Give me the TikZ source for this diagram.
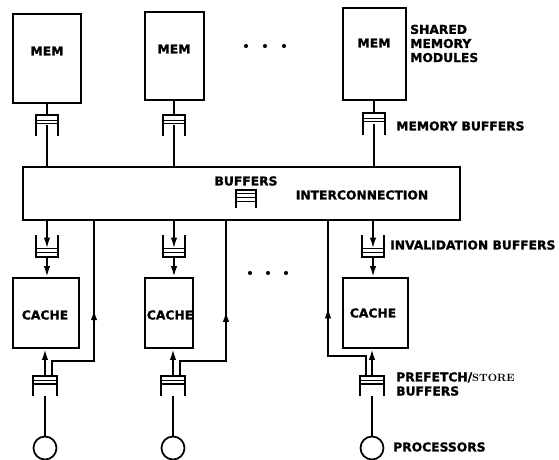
\documentclass[tikz,border=0pt]{standalone}
\usepackage{fontspec}
\setsansfont{DejaVu Sans}[BoldFeatures={FakeBold=1.2}]
\usetikzlibrary{arrows.meta,calc,decorations.markings}

\newdimen\pxu \pxu=0.03cm

\begin{document}
\begin{tikzpicture}[
  x=0.03cm, y=-0.03cm,
  unitbox/.style={draw, line width=2.3pt, inner sep=0pt},
  lbl/.style={font=\sffamily\bfseries\fontsize{10.5}{12}\selectfont, inner sep=0pt},
  side/.style={lbl, anchor=west, align=left},
  buf/.style={inner sep=0pt, minimum width=22\pxu, minimum height=21\pxu},
  bufline/.style={line width=1.5pt},
  stripe/.style={line width=1pt},
  conn/.style={line width=1.5pt},
  tip/.style={},
  arr/.style={conn, -{Latex[length=9pt,width=5.5pt]}},
  fbline/.style={conn, postaction={decorate}, decoration={markings,
      mark=at position 0.55 with {\arrow{Latex[length=9pt,width=5.5pt]}}}},
  proc/.style={circle, draw, line width=1.5pt, minimum size=23\pxu, inner sep=0pt},
  dot/.style={circle, fill, inner sep=0pt, minimum size=3.5pt},
]
  \useasboundingbox (0,0) rectangle (559,460);

  % Shared memory modules
  \node[unitbox, minimum width=68\pxu, minimum height=89\pxu] (mem1) at (47,58.5) {};
  \node[unitbox, minimum width=59\pxu, minimum height=88\pxu] (mem2) at (174.5,56) {};
  \node[unitbox, minimum width=63\pxu, minimum height=92\pxu] (mem3) at (374.5,54) {};
  \node[lbl] (memt1) at (47,51) {MEM};
  \node[lbl] (memt2) at (174,49) {MEM};
  \node[lbl] (memt3) at (374,43) {MEM};
  \node[side] (shared) at (410,43.5) {SHARED\\MEMORY\\MODULES};

  \foreach \i in {0,1,2} {
    \node[dot] (tdot\i) at (246+\i*19, 46) {};
    \node[dot] (mdot\i) at (250+\i*18, 273) {};
  }

  % Memory buffers
  \node[buf] (mb1) at (47,125.5) {};
  \node[buf] (mb2) at (174,125.5) {};
  \node[buf] (mb3) at (374,124) {};
  \node[side] (mblbl) at (396,126) {MEMORY BUFFERS};

  % Interconnection
  \node[draw, line width=1.8pt, minimum width=437\pxu, minimum height=53\pxu] (ic) at (241.5,193.5) {};
  \node[lbl] (icbt) at (246,181) {BUFFERS};
  \node[buf, minimum width=20\pxu, minimum height=18\pxu] (icb) at (246,199) {};
  \node[lbl] (ict) at (362,195) {INTERCONNECTION};

  % Invalidation buffers
  \node[buf, minimum height=22\pxu] (ib1) at (47,246) {};
  \node[buf, minimum height=22\pxu] (ib2) at (174,246) {};
  \node[buf, minimum height=22\pxu] (ib3) at (373,246) {};
  \node[side] (iblbl) at (390,245) {INVALIDATION BUFFERS};

  % Caches
  \node[unitbox, minimum width=66\pxu, minimum height=70\pxu] (cache1) at (46,313) {};
  \node[unitbox, minimum width=48\pxu, minimum height=70\pxu] (cache2) at (169,313) {};
  \node[unitbox, minimum width=65\pxu, minimum height=70\pxu] (cache3) at (375.5,313) {};
  \node[lbl] (ct1) at (45,315) {CACHE};
  \node[lbl] (ct2) at (170,315) {CACHE};
  \node[lbl] (ct3) at (373,313) {CACHE};

  % Prefetch/store buffers
  \node[buf, minimum width=23\pxu, minimum height=20\pxu] (pf1) at (45,386) {};
  \node[buf, minimum width=23\pxu, minimum height=20\pxu] (pf2) at (173,386) {};
  \node[buf, minimum width=23\pxu, minimum height=20\pxu] (pf3) at (372,386) {};
  \node[side] (pflbl) at (396,384) {PREFETCH/{\rmfamily\bfseries\small STORE}\\BUFFERS};

  % Processors
  \node[proc] (p1) at (45,448) {};
  \node[proc] (p2) at (173,448) {};
  \node[proc] (p3) at (372,448) {};
  \node[side] (plbl) at (393,447) {PROCESSORS};

  % queue symbols, open side down
  \foreach \b in {mb1,mb2,mb3,pf1,pf2,pf3,icb}
    \draw[bufline] (\b.south west) -- (\b.north west) -- (\b.north east) -- (\b.south east);
  \foreach \b in {mb1,mb2,mb3,pf1,pf2,pf3}
    \foreach \f in {0.25,0.4}
      \draw[stripe] ($(\b.north west)!\f!(\b.south west)$) -- ($(\b.north east)!\f!(\b.south east)$);
  \foreach \f in {0.22,0.42,0.62}
    \draw[stripe] ($(icb.north west)!\f!(icb.south west)$) -- ($(icb.north east)!\f!(icb.south east)$);

  % queue symbols, open side up
  \foreach \b in {ib1,ib2,ib3} {
    \draw[bufline] (\b.north west) -- (\b.south west) -- (\b.south east) -- (\b.north east);
    \foreach \f in {0.6,0.78}
      \draw[stripe] ($(\b.north west)!\f!(\b.south west)$) -- ($(\b.north east)!\f!(\b.south east)$);
  }

  % memory side
  \foreach \i in {1,2,3} {
    \draw[conn] (mb\i.north) -- (mb\i.north |- mem\i.south);
    \draw[conn] (mb\i.center) -- (mb\i.center |- ic.north);
  }

  % invalidation path, processor side
  \foreach \i in {1,2,3} {
    \draw[arr] (ib\i.north |- ic.south) -- ($(ib\i.north)!0.6!(ib\i.south)$);
    \draw[arr] (ib\i.south) -- (ib\i.south |- cache\i.north);
    \draw[arr] (pf\i.north) -- (pf\i.north |- cache\i.south);
    \draw[conn] (pf\i.south) -- (pf\i.south |- p\i.north);
  }

  % store path back to the interconnection
  \coordinate (fb1) at (94,361);
  \coordinate (fb2) at (226,361);
  \coordinate (fb3) at (328,356);
  \draw[fbline] ($(pf1.north)+(7,0)$) |- (fb1) -- (fb1 |- ic.south);
  \draw[fbline] ($(pf2.north)+(7,0)$) |- (fb2) -- (fb2 |- ic.south);
  \draw[fbline] ($(pf3.north)+(-6,0)$) |- (fb3) -- (fb3 |- ic.south);

\end{tikzpicture}
\end{document}
